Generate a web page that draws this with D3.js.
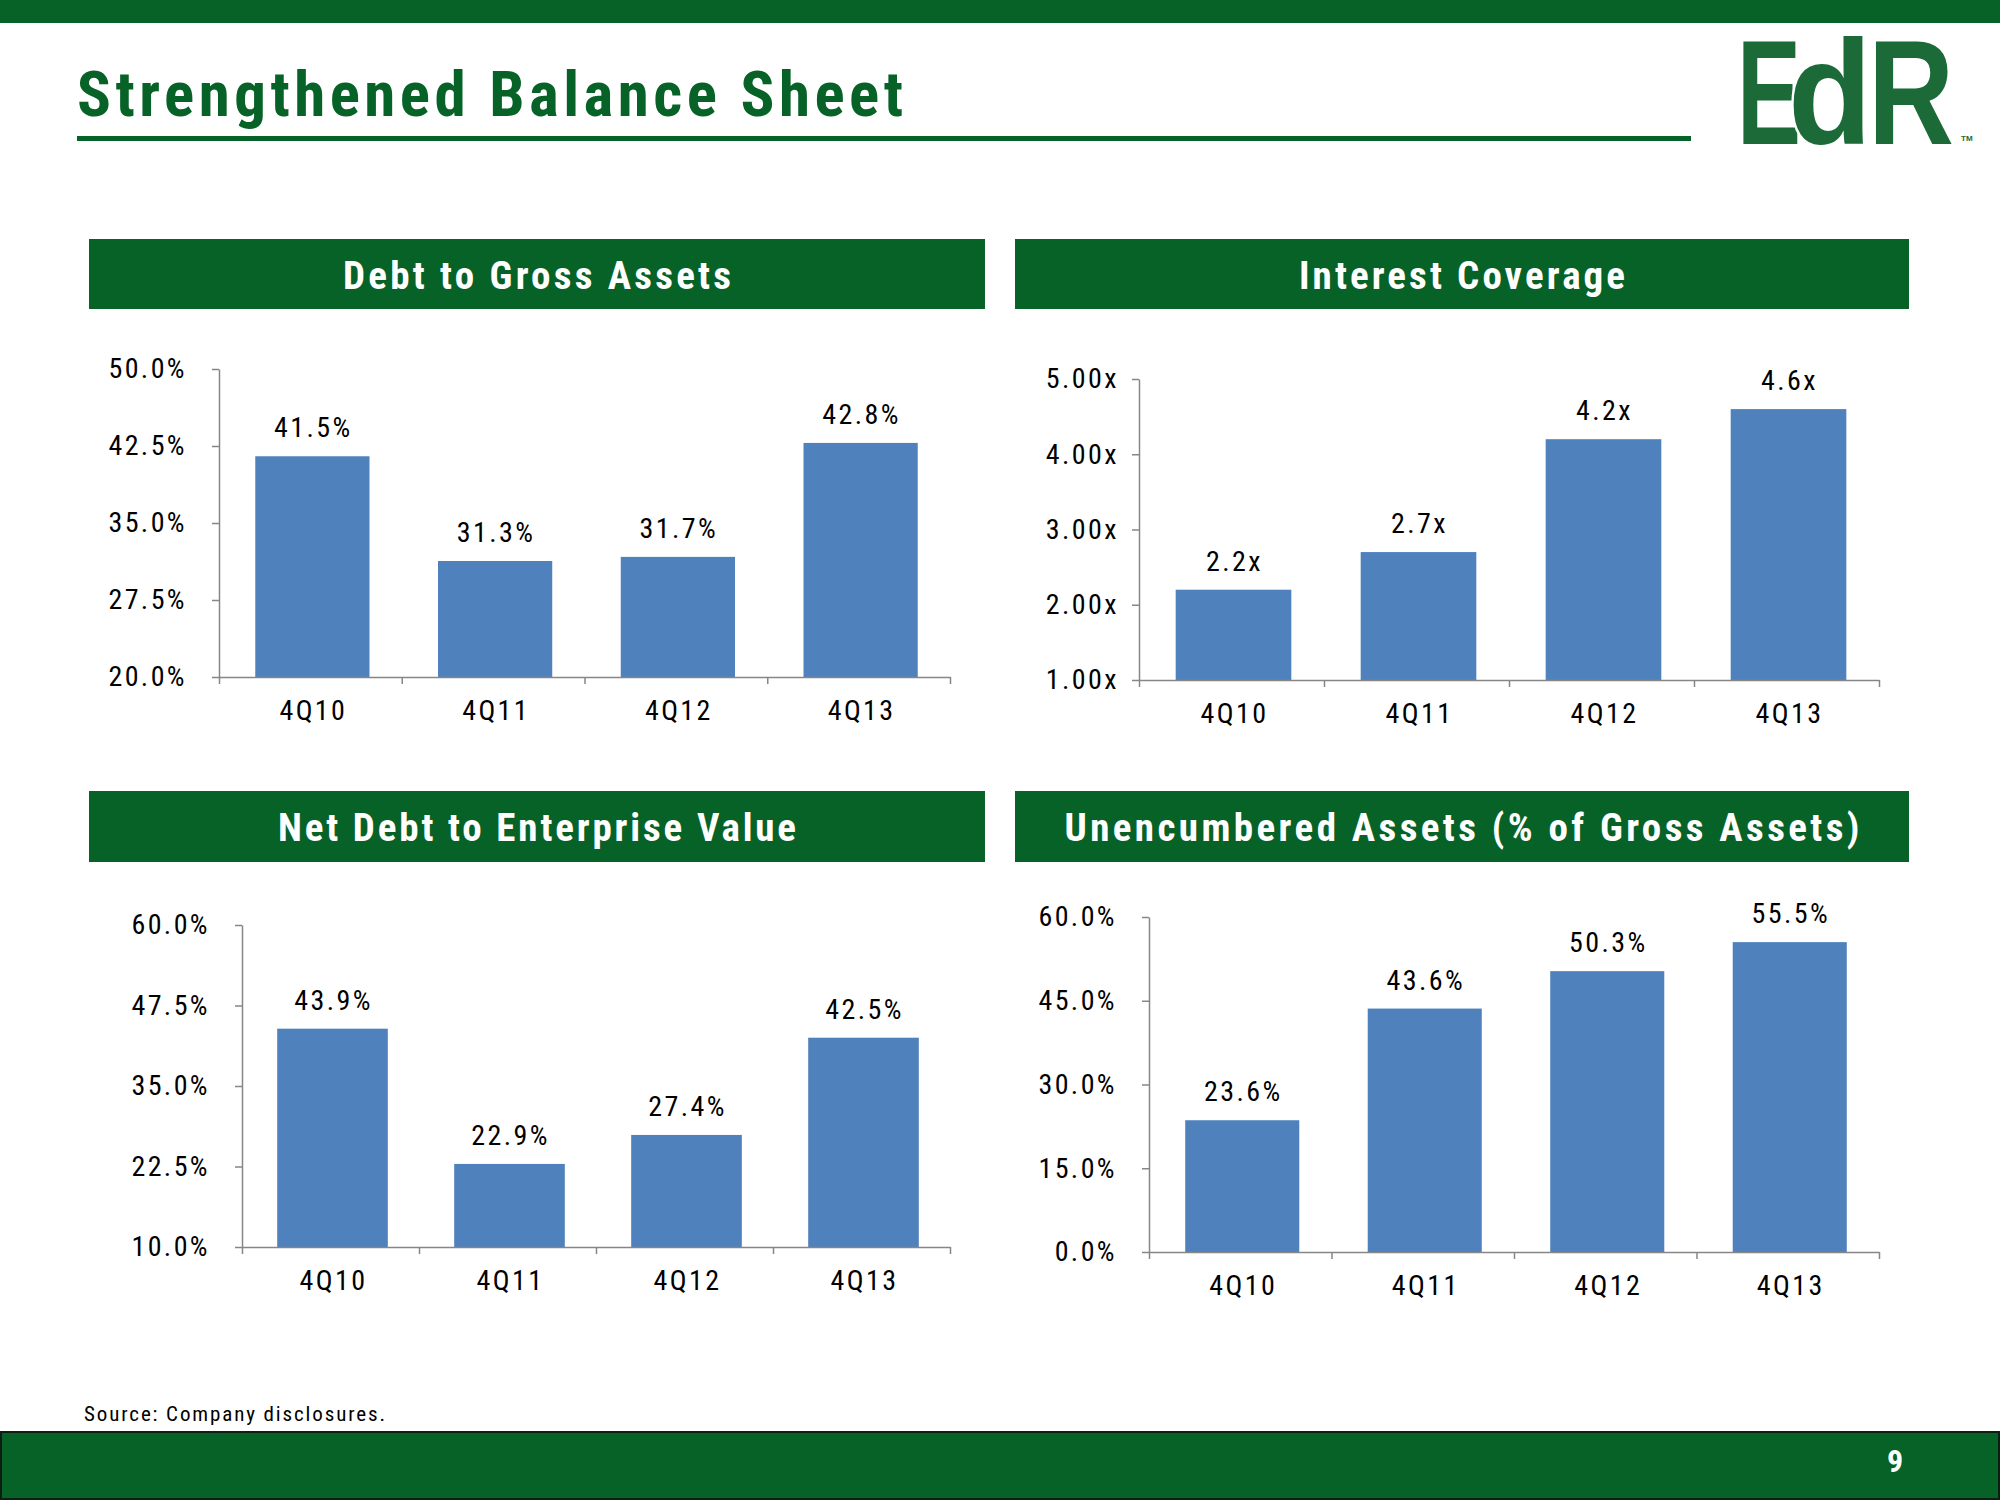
<!DOCTYPE html>
<html>
<head>
<meta charset="utf-8">
<script src="https://cdn.jsdelivr.net/npm/d3@7/dist/d3.min.js"></script>
<style>
html,body{margin:0;padding:0;background:#fff;}
svg{display:block;}
</style>
</head>
<body>
<svg id="chart" width="2000" height="1500"></svg>
<script>
// ---------- DATA ----------
const categories = ["4Q10", "4Q11", "4Q12", "4Q13"];
const debtToGross = [41.5, 31.3, 31.7, 42.8];
const interestCoverage = [2.2, 2.7, 4.2, 4.6];
const netDebtToEV = [43.9, 22.9, 27.4, 42.5];
const unencumbered = [23.6, 43.6, 50.3, 55.5];
const debtTicks = [20, 27.5, 35, 42.5, 50];
const coverageTicks = [1, 2, 3, 4, 5];
const netDebtTicks = [10, 22.5, 35, 47.5, 60];
const unencTicks = [0, 15, 30, 45, 60];
const panelTitles = ["Debt to Gross Assets", "Interest Coverage", "Net Debt to Enterprise Value", "Unencumbered Assets (% of Gross Assets)"];
const pageTitle = "Strengthened Balance Sheet";
const sourceNote = "Source: Company disclosures.";
const pageNumber = "9";

// ---------- STYLE ----------
const GREEN = "#076227";
const BAR = "#4F81BD";
const AXIS = "#868686";
const FONT = "'Liberation Sans Narrow','Arial Narrow','Roboto Condensed','Liberation Sans',Arial,sans-serif";
const FS = 28, LS = 2.4;

const svg = d3.select("#chart");

// top band
svg.append("rect").attr("x", 0).attr("y", 0).attr("width", 2000).attr("height", 23).attr("fill", GREEN);

// title
svg.append("text").attr("x", 77).attr("y", 116)
  .attr("font-family", FONT).attr("font-weight", "bold").attr("font-size", 63)
  .attr("fill", GREEN).attr("textLength", 826).attr("lengthAdjust", "spacing")
  .text(pageTitle);
svg.append("rect").attr("x", 77).attr("y", 136).attr("width", 1614).attr("height", 5).attr("fill", GREEN);

// logo
const LOGO = "#1c6a37";
const logoT = svg.append("text").attr("y", 144)
  .attr("font-family", "'Liberation Sans','Arial',sans-serif").attr("font-weight", "bold")
  .attr("font-size", 148).attr("fill", LOGO).attr("lengthAdjust", "spacingAndGlyphs");
logoT.append("tspan").attr("x", 1737).attr("textLength", 64).attr("lengthAdjust", "spacingAndGlyphs").text("E");
logoT.append("tspan").attr("x", 1788).attr("textLength", 84).attr("lengthAdjust", "spacingAndGlyphs")
  .attr("stroke", "#fff").attr("stroke-width", 5).attr("paint-order", "stroke").text("d");
logoT.append("tspan").attr("x", 1868).attr("textLength", 86).attr("lengthAdjust", "spacingAndGlyphs")
  .attr("stroke", "#fff").attr("stroke-width", 4).attr("paint-order", "stroke").text("R");
svg.append("text").attr("x", 1961).attr("y", 141).attr("font-family", "'Liberation Sans',sans-serif")
  .attr("font-weight", "bold").attr("font-size", 8).attr("fill", LOGO).text("TM");

// ---------- PANELS ----------
const panels = [
  {title: panelTitles[0], tw: 388, hx: 89, hy: 239, hw: 896, hh: 70,
   data: debtToGross, ticks: debtTicks, fmt: d => d.toFixed(1) + "%", lab: d => d.toFixed(1) + "%",
   x0: 219, x1: 950, yTop: 369, yBot: 677, tickGap: 32},
  {title: panelTitles[1], tw: 326, hx: 1015, hy: 239, hw: 894, hh: 70,
   data: interestCoverage, ticks: coverageTicks, fmt: d => d.toFixed(2) + "x", lab: d => d.toFixed(1) + "x",
   x0: 1139, x1: 1879, yTop: 379, yBot: 680, tickGap: 20},
  {title: panelTitles[2], tw: 518, hx: 89, hy: 791, hw: 896, hh: 71,
   data: netDebtToEV, ticks: netDebtTicks, fmt: d => d.toFixed(1) + "%", lab: d => d.toFixed(1) + "%",
   x0: 242, x1: 950, yTop: 925, yBot: 1247, tickGap: 32},
  {title: panelTitles[3], tw: 795, hx: 1015, hy: 791, hw: 894, hh: 71,
   data: unencumbered, ticks: unencTicks, fmt: d => d.toFixed(1) + "%", lab: d => d.toFixed(1) + "%",
   x0: 1149, x1: 1879, yTop: 917, yBot: 1252, tickGap: 32}
];

panels.forEach(p => {
  const g = svg.append("g");
  // header
  g.append("rect").attr("x", p.hx).attr("y", p.hy).attr("width", p.hw).attr("height", p.hh).attr("fill", GREEN);
  g.append("text").attr("x", p.hx + p.hw / 2 - p.tw / 2).attr("y", p.hy + 50)
    .attr("font-family", FONT).attr("font-weight", "bold").attr("font-size", 39)
    .attr("fill", "#fff").attr("textLength", p.tw).attr("lengthAdjust", "spacing")
    .text(p.title);

  const y = d3.scaleLinear().domain([p.ticks[0], p.ticks[p.ticks.length - 1]]).range([p.yBot, p.yTop]);
  const x = d3.scaleBand().domain(categories).range([p.x0, p.x1]).paddingInner(0.375).paddingOuter(0.1875);
  const xb = d3.scaleLinear().domain([0, categories.length]).range([p.x0, p.x1]);

  // bars
  g.selectAll("rect.bar").data(p.data).join("rect").attr("class", "bar")
    .attr("x", (d, i) => x(categories[i]) + 2).attr("width", x.bandwidth())
    .attr("y", d => y(d)).attr("height", d => p.yBot - y(d)).attr("fill", BAR);

  // value labels
  g.selectAll("text.val").data(p.data).join("text").attr("class", "val")
    .attr("x", (d, i) => x(categories[i]) + x.bandwidth() / 2 + 3).attr("y", d => y(d) - 19)
    .attr("text-anchor", "middle").attr("font-family", FONT).attr("font-size", FS)
    .attr("letter-spacing", LS).attr("fill", "#000").text(p.lab);

  // y axis
  const ya = g.append("g").attr("transform", `translate(${p.x0},0)`)
    .call(d3.axisLeft(y).tickValues(p.ticks).tickFormat(p.fmt).tickSize(7).tickSizeOuter(0).tickPadding(p.tickGap - 7));
  ya.select(".domain").attr("stroke", AXIS).attr("stroke-width", 1.5);
  ya.selectAll(".tick line").attr("stroke", AXIS).attr("stroke-width", 1.5);
  ya.selectAll(".tick text").attr("font-family", FONT).attr("font-size", FS).attr("letter-spacing", LS).attr("fill", "#000");

  // x axis (boundary ticks)
  const xa = g.append("g").attr("transform", `translate(0,${p.yBot})`)
    .call(d3.axisBottom(xb).tickValues(d3.range(categories.length + 1)).tickFormat("").tickSize(7).tickSizeOuter(0));
  xa.select(".domain").attr("stroke", AXIS).attr("stroke-width", 1.5);
  xa.selectAll(".tick line").attr("stroke", AXIS).attr("stroke-width", 1.5);

  // category labels
  g.selectAll("text.cat").data(categories).join("text").attr("class", "cat")
    .attr("x", d => x(d) + x.bandwidth() / 2 + 3).attr("y", p.yBot + 43)
    .attr("text-anchor", "middle").attr("font-family", FONT).attr("font-size", FS)
    .attr("letter-spacing", LS).attr("fill", "#000").text(d => d);
});

// source
svg.append("text").attr("x", 84).attr("y", 1421).attr("font-family", FONT).attr("font-size", 21)
  .attr("fill", "#000").attr("textLength", 301).attr("lengthAdjust", "spacing").text(sourceNote);

// footer
svg.append("rect").attr("x", 1).attr("y", 1432).attr("width", 1998).attr("height", 67)
  .attr("fill", GREEN).attr("stroke", "#0d1f12").attr("stroke-width", 2);
svg.append("text").attr("x", 1895).attr("y", 1472).attr("text-anchor", "middle")
  .attr("font-family", FONT).attr("font-weight", "bold").attr("font-size", 32).attr("fill", "#fff").text(pageNumber);
</script>
</body>
</html>
